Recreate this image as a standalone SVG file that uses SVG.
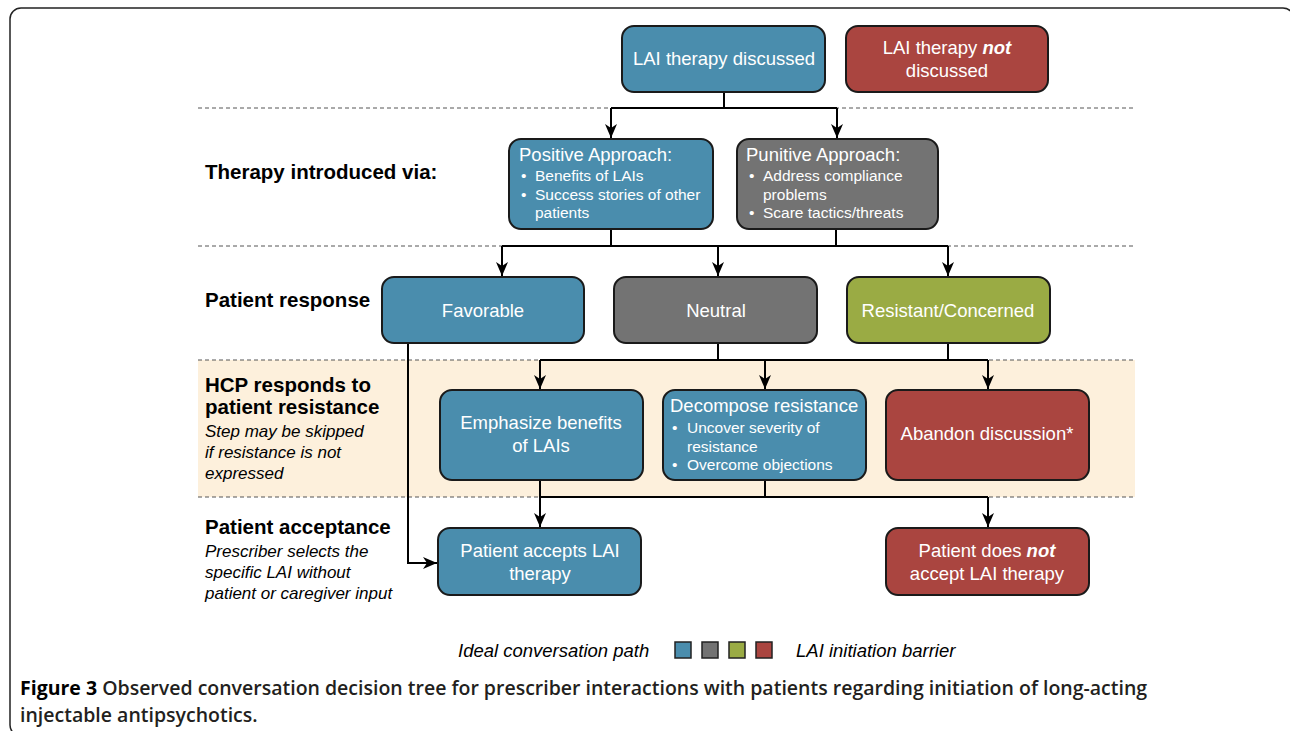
<svg xmlns="http://www.w3.org/2000/svg" width="1290" height="731" viewBox="0 0 1290 731">
<style>
.box{stroke:#1a1a1a;stroke-width:2}
.blue{fill:#4a8dad}
.gray{fill:#737373}
.green{fill:#9aab44}
.red{fill:#aa4540}
.t{font-family:"Liberation Sans",Arial,sans-serif;font-size:18.5px;fill:#ffffff}
.c{text-anchor:middle}
.b{font-family:"Liberation Sans",Arial,sans-serif;font-size:15.5px;fill:#ffffff}
.lbl{font-family:"Liberation Sans",Arial,sans-serif;font-size:20.5px;font-weight:bold;fill:#000}
.it{font-family:"Liberation Sans",Arial,sans-serif;font-size:17px;font-style:italic;fill:#000}
.leg{font-family:"Liberation Sans",Arial,sans-serif;font-size:18.5px;font-style:italic;fill:#000}
.dash{stroke:#555;stroke-width:1;stroke-dasharray:4 3;fill:none}
.conn path{stroke:#000;stroke-width:2;fill:none}
.cap{font-family:"Open Sans","Liberation Sans",sans-serif;font-size:19.5px;font-weight:600;fill:#231f20}
</style>
<defs>
<marker id="arr" markerUnits="userSpaceOnUse" markerWidth="14" markerHeight="12" refX="14" refY="6" orient="auto">
<path d="M0,0 L14,6 L0,12 L4,6 z" fill="#000"/>
</marker>
</defs>
<rect x="10" y="8" width="1284" height="728" rx="11" fill="#fff" stroke="#222" stroke-width="1.5"/>
<rect x="198" y="360" width="937" height="137" fill="#fdf0dc"/>
<g id="guides">
<path class="dash" d="M198,108 H1135"/>
<path class="dash" d="M198,246 H1135"/>
<path class="dash" d="M198,360 H1135"/>
<path class="dash" d="M198,497 H1135"/>
</g>
<g id="labels">
<text class="lbl" x="205" y="179">Therapy introduced via:</text>
<text class="lbl" x="205" y="307">Patient response</text>
<text class="lbl" x="205" y="392">HCP responds to</text>
<text class="lbl" x="205" y="414">patient resistance</text>
<text class="it" x="205" y="437">Step may be skipped</text>
<text class="it" x="205" y="458">if resistance is not</text>
<text class="it" x="205" y="479">expressed</text>
<text class="lbl" x="205" y="534">Patient acceptance</text>
<text class="it" x="205" y="557">Prescriber selects the</text>
<text class="it" x="205" y="578">specific LAI without</text>
<text class="it" x="205" y="599">patient or caregiver input</text>
</g>
<g class="conn" id="connectors">
<path d="M724,92 V108"/>
<path d="M611,108 H837"/>
<path d="M611,108 V138" marker-end="url(#arr)"/>
<path d="M837,108 V138" marker-end="url(#arr)"/>
<path d="M611,229 V246"/>
<path d="M836,229 V246"/>
<path d="M502,246 H948"/>
<path d="M502,246 V276" marker-end="url(#arr)"/>
<path d="M718,246 V276" marker-end="url(#arr)"/>
<path d="M948,246 V276" marker-end="url(#arr)"/>
<path d="M718,343 V360"/>
<path d="M948,343 V360"/>
<path d="M540,360 H988"/>
<path d="M540,360 V389" marker-end="url(#arr)"/>
<path d="M765,360 V389" marker-end="url(#arr)"/>
<path d="M988,360 V389" marker-end="url(#arr)"/>
<path d="M540,480 V497"/>
<path d="M765,480 V497"/>
<path d="M540,497 H988"/>
<path d="M540,497 V527" marker-end="url(#arr)"/>
<path d="M988,497 V527" marker-end="url(#arr)"/>
<path d="M408,343 V563 H437" marker-end="url(#arr)"/>
</g>
<g id="lai-discussed">
<rect class="box blue" x="622" y="26" width="203" height="66" rx="12"/>
<text class="t c" x="724" y="65">LAI therapy discussed</text>
</g>
<g id="lai-not-discussed">
<rect class="box red" x="846" y="26" width="202" height="66" rx="12"/>
<text class="t c" x="947" y="54">LAI therapy <tspan font-weight="bold" font-style="italic">not</tspan></text>
<text class="t c" x="947" y="77">discussed</text>
</g>
<g id="positive">
<rect class="box blue" x="509" y="139" width="204" height="90" rx="12"/>
<text class="t" x="519" y="161">Positive Approach:</text>
<text class="b" x="521" y="181">•</text><text class="b" x="535" y="181">Benefits of LAIs</text>
<text class="b" x="521" y="200">•</text><text class="b" x="535" y="200">Success stories of other</text>
<text class="b" x="535" y="218">patients</text>
</g>
<g id="punitive">
<rect class="box gray" x="737" y="139" width="201" height="90" rx="12"/>
<text class="t" x="746" y="161">Punitive Approach:</text>
<text class="b" x="749" y="181">•</text><text class="b" x="763" y="181">Address compliance</text>
<text class="b" x="763" y="200">problems</text>
<text class="b" x="749" y="218">•</text><text class="b" x="763" y="218">Scare tactics/threats</text>
</g>
<g id="favorable">
<rect class="box blue" x="382" y="277" width="202" height="66" rx="12"/>
<text class="t c" x="483" y="317">Favorable</text>
</g>
<g id="neutral">
<rect class="box gray" x="614" y="277" width="203" height="66" rx="12"/>
<text class="t c" x="716" y="317">Neutral</text>
</g>
<g id="resistant">
<rect class="box green" x="847" y="277" width="203" height="66" rx="12"/>
<text class="t c" x="948" y="317">Resistant/Concerned</text>
</g>
<g id="emphasize">
<rect class="box blue" x="440" y="390" width="203" height="90" rx="12"/>
<text class="t c" x="541" y="429">Emphasize benefits</text>
<text class="t c" x="541" y="452">of LAIs</text>
</g>
<g id="decompose">
<rect class="box blue" x="663" y="390" width="203" height="90" rx="12"/>
<text class="t" x="670" y="412">Decompose resistance</text>
<text class="b" x="672" y="433">•</text><text class="b" x="687" y="433">Uncover severity of</text>
<text class="b" x="687" y="452">resistance</text>
<text class="b" x="672" y="470">•</text><text class="b" x="687" y="470">Overcome objections</text>
</g>
<g id="abandon">
<rect class="box red" x="886" y="390" width="203" height="90" rx="12"/>
<text class="t c" x="987" y="440">Abandon discussion*</text>
</g>
<g id="accepts">
<rect class="box blue" x="438" y="528" width="203" height="67" rx="12"/>
<text class="t c" x="540" y="557">Patient accepts LAI</text>
<text class="t c" x="540" y="580">therapy</text>
</g>
<g id="not-accepts">
<rect class="box red" x="886" y="528" width="203" height="67" rx="12"/>
<text class="t c" x="987" y="557">Patient does <tspan font-weight="bold" font-style="italic">not</tspan></text>
<text class="t c" x="987" y="580">accept LAI therapy</text>
</g>
<g id="legend">
<text class="leg" x="458" y="657">Ideal conversation path</text>
<rect x="675" y="642" width="16" height="16" class="blue" stroke="#222" stroke-width="1.5"/>
<rect x="702" y="642" width="16" height="16" class="gray" stroke="#222" stroke-width="1.5"/>
<rect x="729" y="642" width="16" height="16" class="green" stroke="#222" stroke-width="1.5"/>
<rect x="756" y="642" width="16" height="16" class="red" stroke="#222" stroke-width="1.5"/>
<text class="leg" x="796" y="657">LAI initiation barrier</text>
</g>
<g id="caption">
<text class="cap" x="20" y="695"><tspan font-weight="bold" fill="#000">Figure 3</tspan> Observed conversation decision tree for prescriber interactions with patients regarding initiation of long-acting</text>
<text class="cap" x="20" y="722">injectable antipsychotics.</text>
</g>
</svg>
